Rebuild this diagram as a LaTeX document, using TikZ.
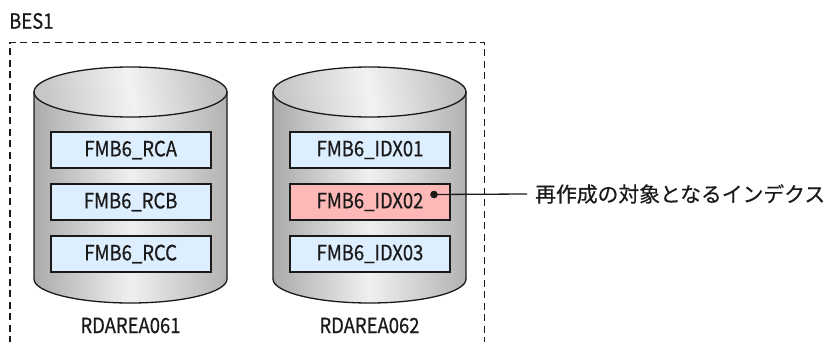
\documentclass[tikz,border=0pt]{standalone}
\usepackage{fontspec}
\setmainfont{Noto Sans CJK JP}
\newfontfamily\latf[FakeStretch=0.88,FakeBold=0.6]{Noto Sans CJK JP}
\newfontfamily\jpf[FakeBold=0.5]{Noto Sans CJK JP}
\definecolor{boxblue}{HTML}{DDEEFF}
\definecolor{boxred}{HTML}{FFB8B8}
\definecolor{txt}{HTML}{1A1A1A}
\begin{document}
\begin{tikzpicture}[x=1pt,y=-1pt,
  seg/.style={draw=txt,line width=1.8pt,minimum width=160pt,minimum height=36pt,inner sep=0pt,
    font=\latf\fontsize{21}{21}\selectfont,text=txt},
  blueseg/.style={seg,fill=boxblue},
  redseg/.style={seg,fill=boxred},
  lab/.style={font=\latf\fontsize{21}{21}\selectfont,text=txt,inner sep=0pt},
  body/.style={draw=txt,line width=1.3pt,left color=black!33,right color=black!30,middle color=black!6},
  lid/.style={draw=txt,line width=1.3pt,left color=black!22,right color=black!25,middle color=black!5,shading angle=100},
  frame/.style={draw=txt,line width=1.4pt,dash pattern=on 7pt off 4.5pt}
]
\useasboundingbox (0,0) rectangle (835,342);
% frame
\draw[frame] (10,343) -- (10,42.5) -- (484.5,42.5) -- (484.5,343);
\node[lab,anchor=west] (bes) at (9,21) {BES1};
% cylinder 1
\path[body] (34,92) -- (34,279) arc[start angle=180,end angle=0,x radius=96.5,y radius=24] -- (227,92) -- cycle;
\path[lid] (130.5,92) ellipse [x radius=96.5,y radius=25];
% cylinder 2
\path[body] (273,92) -- (273,279) arc[start angle=180,end angle=0,x radius=96.5,y radius=24] -- (466,92) -- cycle;
\path[lid] (369.5,92) ellipse [x radius=96.5,y radius=25];
% boxes
\node[blueseg] (rca) at (130.7,150) {FMB6\_RCA};
\node[blueseg] (rcb) at (130.7,202) {FMB6\_RCB};
\node[blueseg] (rcc) at (130.7,254) {FMB6\_RCC};
\node[blueseg] (idx1) at (370,150) {FMB6\_IDX01};
\node[redseg] (idx2) at (370,202) {FMB6\_IDX02};
\node[blueseg] (idx3) at (370,254) {FMB6\_IDX03};
% labels
\node[lab] (ra1) at (130.5,325.5) {RDAREA061};
\node[lab] (ra2) at (369.5,325.5) {RDAREA062};
% callout
\coordinate (dot) at (434,194.5);
\fill[txt] (dot) circle (3.8pt);
\node[anchor=west,inner sep=0pt,font=\jpf\fontsize{20.8}{21}\selectfont,text=txt] (note) at (535,194) {再作成の対象となるインデクス};
\draw[txt,line width=1.3pt] (dot) -- ([xshift=-8pt]note.west);
\end{tikzpicture}
\end{document}
